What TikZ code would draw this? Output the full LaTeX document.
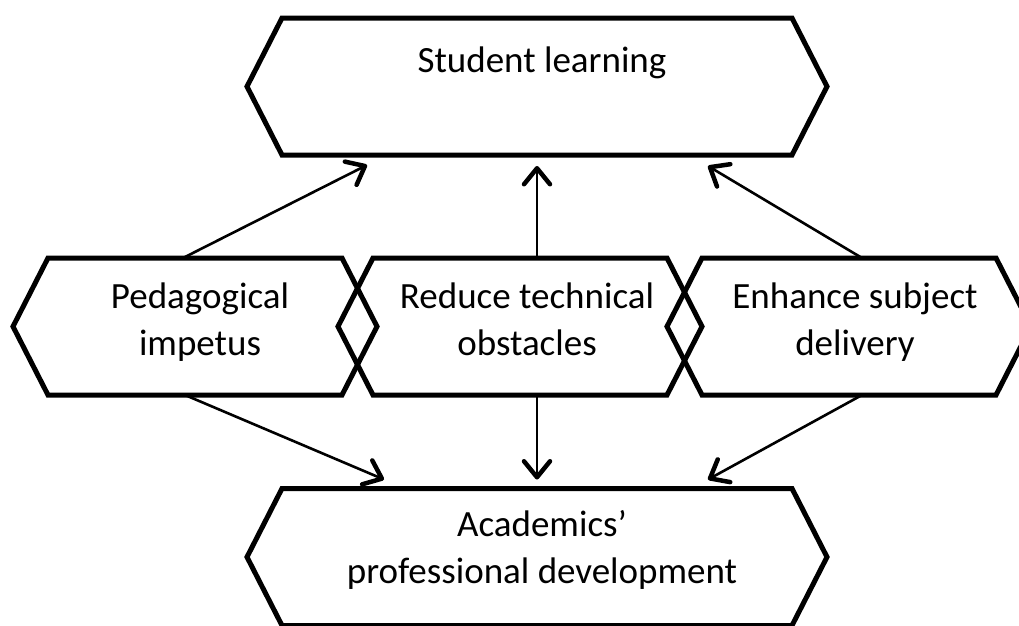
\documentclass[tikz,border=0pt]{standalone}
\usepackage{fontspec}
\setmainfont{Carlito}
\usetikzlibrary{positioning, arrows.meta}

\begin{document}
\begin{tikzpicture}[x=1pt, y=-1pt,
    hexframe/.style={minimum width=#1, minimum height=137pt, inner sep=0pt, outer sep=0pt},
    hextext/.style={font=\fontsize{37}{47}\selectfont, align=center, inner sep=0pt,
        execute at begin node=\strut, execute at end node=\strut},
    link/.style={line width=2.6pt, -{Straight Barb[length=16pt, width=26pt, line width=4.5pt, round]}}]
    \useasboundingbox (0,0) rectangle (1019,625);
    \clip (0,0) rectangle (1019,625);
    \fill[white] (0,0) rectangle (1019,625);

    % Outcomes
    \node[hexframe=510pt] (student) at (537,86.5) {};
    \node[hexframe=510pt] (academics) at (537,557) {};

    % Drivers
    \node[hexframe=294pt] (pedagogy) at (195,326.5) {};
    \node[hexframe=294pt] (technical) at (520,326.5) {};
    \node[hexframe=294pt] (delivery) at (849,326.5) {};

    % Hexagon outlines
    \foreach \n in {student, academics, pedagogy, technical, delivery} {
        \draw[line width=5pt, line join=miter]
            (\n.north west) -- (\n.north east) -- ([xshift=35pt]\n.east)
            -- (\n.south east) -- (\n.south west) -- ([xshift=-35pt]\n.west) -- cycle;
    }

    % Labels
    \node[hextext, anchor=base] (studenttext) at ([xshift=5pt]student.center |- 0,72) {Student learning};
    \node[hextext] (academicstext) at ([xshift=5pt, yshift=3pt]academics.center) {Academics’\\professional development};
    \node[hextext] (pedagogytext) at ([xshift=5pt]pedagogy.center) {Pedagogical\\impetus};
    \node[hextext] (technicaltext) at ([xshift=7pt]technical.center) {Reduce technical\\obstacles};
    \node[hextext] (deliverytext) at ([xshift=6pt]delivery.center) {Enhance subject\\delivery};

    % Connections
    \draw[link] ([xshift=-12pt]pedagogy.north) -- ([xshift=-170pt, yshift=-10pt]student.south);
    \draw[link] (student.south |- technical.north) -- ([yshift=-11pt]student.south);
    \draw[link] ([xshift=13pt]delivery.north) -- ([xshift=171pt, yshift=-11pt]student.south);
    \draw[link] ([xshift=-10pt]pedagogy.south) -- ([xshift=-153pt, yshift=9pt]academics.north);
    \draw[link] (academics.north |- technical.south) -- ([yshift=9pt]academics.north);
    \draw[link] ([xshift=13pt]delivery.south) -- ([xshift=171pt, yshift=9pt]academics.north);
\end{tikzpicture}
\end{document}
